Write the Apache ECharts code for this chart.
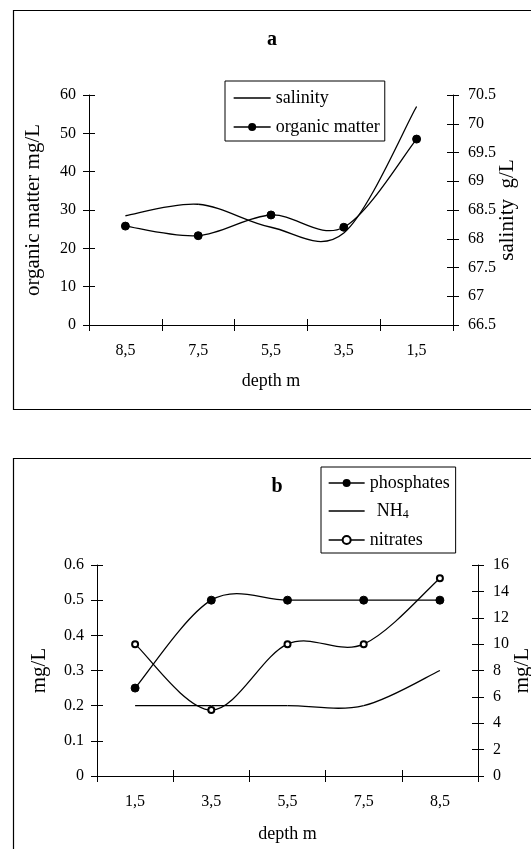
<!DOCTYPE html>
<html>
<head>
<meta charset="utf-8">
<script src="https://cdn.jsdelivr.net/npm/echarts@6/dist/echarts.min.js"></script>
<style>
html,body{margin:0;padding:0;background:#fff;}
#c{width:531px;height:849px;}
</style>
</head>
<body>
<div id="c"></div>
<script>
// ---- data ----
const categoriesA = ['8,5', '7,5', '5,5', '3,5', '1,5'];
const organicMatter = [25.8, 23.3, 28.7, 25.5, 48.5];
const salinity = [68.4, 68.6, 68.2, 68.1, 70.3];
const organicTicks = { min: 0, max: 60, interval: 10 };
const salinityTicks = { min: 66.5, max: 70.5, interval: 0.5 };

const categoriesB = ['1,5', '3,5', '5,5', '7,5', '8,5'];
const phosphates = [0.25, 0.5, 0.5, 0.5, 0.5];
const nh4 = [0.2, 0.2, 0.2, 0.2, 0.3];
const nitrates = [10, 5, 10, 10, 15];
const leftBTicks = { min: 0, max: 0.6, interval: 0.1 };
const rightBTicks = { min: 0, max: 16, interval: 2 };

// ---- styling ----
const FONT = 'Liberation Serif';
const BLACK = '#000';
const tickLen = 6;
const LW = 1.3;

function catAxis(gridIndex, data, overlay, nameGap) {
  const ax = {
    type: 'category', gridIndex: gridIndex, data: data, position: 'bottom',
    axisLine: { show: !overlay, onZero: false, lineStyle: { color: BLACK, width: 1 } },
    axisTick: { show: true, inside: overlay, length: tickLen, lineStyle: { color: BLACK, width: 1 } },
    axisLabel: { show: !overlay, color: BLACK, fontFamily: FONT, fontSize: 16, margin: 18 },
    splitLine: { show: false }
  };
  if (!overlay) {
    ax.name = 'depth m';
    ax.nameLocation = 'middle';
    ax.nameGap = nameGap;
    ax.nameMoveOverlap = false;
    ax.nameTextStyle = { color: BLACK, fontFamily: FONT, fontSize: 18 };
  }
  return ax;
}
function valAxis(gridIndex, pos, t, overlay, name, nameGap, labelMargin) {
  const ax = {
    type: 'value', gridIndex: gridIndex, position: pos,
    min: t.min, max: t.max, interval: t.interval,
    axisLine: { show: !overlay, onZero: false, lineStyle: { color: BLACK, width: 1 } },
    axisTick: { show: true, inside: overlay, length: tickLen, lineStyle: { color: BLACK, width: 1 } },
    axisLabel: { show: !overlay, color: BLACK, fontFamily: FONT, fontSize: 16, margin: labelMargin || 0 },
    splitLine: { show: false }
  };
  if (!overlay) {
    ax.name = name;
    ax.nameLocation = 'middle';
    ax.nameGap = nameGap;
    ax.nameMoveOverlap = false;
    ax.nameTextStyle = { color: BLACK, fontFamily: FONT, fontSize: 21 };
  }
  return ax;
}

// smoothed curve (Catmull-Rom style Bezier) drawn through the axes' own coordinate mapping
function curveSeries(values, xIdx, yIdx) {
  return {
    type: 'custom', coordinateSystem: 'cartesian2d', xAxisIndex: xIdx, yAxisIndex: yIdx,
    data: values.map(function (v, i) { return [i, v]; }),
    encode: { x: 0, y: 1 }, silent: true, z: 2, animation: false,
    renderItem: function (params, api) {
      const n = values.length;
      const i = params.dataIndex;
      if (i >= n - 1) return null;
      const P = function (k) {
        const kk = Math.max(0, Math.min(n - 1, k));
        return api.coord([kk, values[kk]]);
      };
      const p0 = P(i - 1), p1 = P(i), p2 = P(i + 1), p3 = P(i + 2);
      const t = 1 / 6;
      return {
        type: 'bezierCurve',
        shape: {
          x1: p1[0], y1: p1[1], x2: p2[0], y2: p2[1],
          cpx1: p1[0] + (p2[0] - p0[0]) * t, cpy1: p1[1] + (p2[1] - p0[1]) * t,
          cpx2: p2[0] - (p3[0] - p1[0]) * t, cpy2: p2[1] - (p3[1] - p1[1]) * t
        },
        style: { stroke: BLACK, lineWidth: LW, fill: null }
      };
    }
  };
}

const gridA = { left: 89, top: 95, width: 364, height: 230, containLabel: false, outerBoundsMode: 'none' };
const gridB = { left: 97, top: 565, width: 381, height: 211, containLabel: false, outerBoundsMode: 'none' };

const chart = echarts.init(document.getElementById('c'), null, { renderer: 'canvas' });

const markerBase = {
  type: 'line', smooth: false,
  lineStyle: { color: BLACK, width: LW, opacity: 0 },
  itemStyle: { color: BLACK, borderColor: BLACK },
  z: 3, animation: false
};
const legendLine = { color: BLACK, width: LW, opacity: 1, type: 'solid' };

const option = {
  backgroundColor: '#fff',
  animation: false,
  textStyle: { fontFamily: FONT, color: BLACK },
  graphic: [
    { type: 'rect', shape: { x: 13.5, y: 10.5, width: 530, height: 399 }, style: { fill: 'none', stroke: BLACK, lineWidth: 1.2 } },
    { type: 'rect', shape: { x: 13.5, y: 458.5, width: 530, height: 400 }, style: { fill: 'none', stroke: BLACK, lineWidth: 1.2 } },
    { type: 'text', x: 272, y: 40, style: { text: 'a', fontFamily: FONT, fontWeight: 'bold', fontSize: 20, fill: BLACK, textAlign: 'center', textVerticalAlign: 'middle' } },
    { type: 'text', x: 277, y: 487, style: { text: 'b', fontFamily: FONT, fontWeight: 'bold', fontSize: 20, fill: BLACK, textAlign: 'center', textVerticalAlign: 'middle' } }
  ],
  grid: [gridA, Object.assign({}, gridA), gridB, Object.assign({}, gridB)],
  xAxis: [
    catAxis(0, categoriesA, false, 47),
    catAxis(1, categoriesA, true),
    catAxis(2, categoriesB, false, 49),
    catAxis(3, categoriesB, true)
  ],
  yAxis: [
    valAxis(0, 'left', organicTicks, false, 'organic matter mg/L', 45, 13),
    valAxis(0, 'right', salinityTicks, false, 'salinity  g/L', 44, 15),
    valAxis(1, 'left', organicTicks, true),
    valAxis(1, 'right', salinityTicks, true),
    valAxis(2, 'left', leftBTicks, false, 'mg/L', 47, 13),
    valAxis(2, 'right', rightBTicks, false, 'mg/L', 34, 15),
    valAxis(3, 'left', leftBTicks, true),
    valAxis(3, 'right', rightBTicks, true)
  ],
  legend: [
    {
      orient: 'vertical', left: 225, top: 81,
      data: [{ name: 'salinity', itemStyle: { opacity: 0 } }, 'organic matter'],
      itemWidth: 37, itemHeight: 10, itemGap: 11,
      padding: [8, 5, 5, 8],
      borderColor: BLACK, borderWidth: 1, backgroundColor: '#fff',
      lineStyle: legendLine,
      textStyle: { fontFamily: FONT, fontSize: 18, color: BLACK, lineHeight: 18 },
      selectedMode: false
    },
    {
      orient: 'vertical', left: 321, top: 467,
      data: ['phosphates', { name: 'NH4', itemStyle: { opacity: 0 } }, 'nitrates'],
      itemWidth: 36, itemHeight: 10, itemGap: 10,
      padding: [7, 6, 4, 7],
      borderColor: BLACK, borderWidth: 1, backgroundColor: '#fff',
      lineStyle: legendLine,
      formatter: function (name) { return name === 'NH4' ? '{n|NH}{s|4}' : name; },
      textStyle: { fontFamily: FONT, fontSize: 18, color: BLACK, lineHeight: 18,
        rich: {
          n: { fontFamily: FONT, fontSize: 18, color: BLACK, padding: [0, 0, 0, 7] },
          s: { fontFamily: FONT, fontSize: 12, color: BLACK, padding: [8, 0, 0, 0] }
        } },
      selectedMode: false
    }
  ],
  series: [
    curveSeries(salinity, 0, 1),
    curveSeries(organicMatter, 0, 0),
    curveSeries(phosphates, 2, 4),
    curveSeries(nh4, 2, 4),
    curveSeries(nitrates, 2, 5),
    Object.assign({}, markerBase, { name: 'salinity', xAxisIndex: 0, yAxisIndex: 1, data: salinity, symbol: 'none' }),
    Object.assign({}, markerBase, { name: 'organic matter', xAxisIndex: 0, yAxisIndex: 0, data: organicMatter, symbol: 'circle', symbolSize: 8 }),
    Object.assign({}, markerBase, { name: 'phosphates', xAxisIndex: 2, yAxisIndex: 4, data: phosphates, symbol: 'circle', symbolSize: 8 }),
    Object.assign({}, markerBase, { name: 'NH4', xAxisIndex: 2, yAxisIndex: 4, data: nh4, symbol: 'none' }),
    Object.assign({}, markerBase, { name: 'nitrates', xAxisIndex: 2, yAxisIndex: 5, data: nitrates, symbol: 'emptyCircle', symbolSize: 6,
      itemStyle: { color: BLACK, borderColor: BLACK, borderWidth: 1 } })
  ]
};
chart.setOption(option);
</script>
</body>
</html>
